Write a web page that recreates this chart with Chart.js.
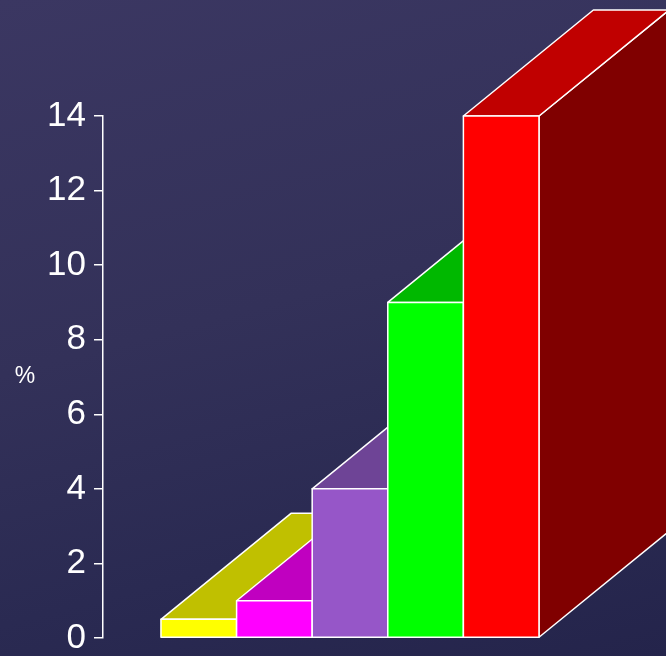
<!DOCTYPE html>
<html>
<head>
<meta charset="utf-8">
<script src="https://cdn.jsdelivr.net/npm/chart.js@4/dist/chart.umd.min.js"></script>
<style>
  html, body { margin: 0; padding: 0; }
  body {
    width: 666px; height: 656px; overflow: hidden;
    background: linear-gradient(165deg, #3b3762 0%, #333159 45%, #2a2a52 75%, #24244b 100%);
  }
  canvas { display: block; }
</style>
</head>
<body>
<canvas id="chart" width="666" height="656"></canvas>
<script>
// bar values, left to right
const categories = ['1', '2', '3', '4', '5'];
const values = [0.5, 1, 4, 9, 14];
const yTicks = [0, 2, 4, 6, 8, 10, 12, 14];

// front / top / side shades for each bar
const frontColors = ['#ffff00', '#ff00ff', '#9656c8', '#00ff00', '#ff0000'];
const topColors = ['#c0c000', '#c000c0', '#6e4496', '#00b800', '#c00000'];
const sideColors = ['#808000', '#800080', '#4e3070', '#008000', '#800000'];

const DEPTH_X = 130;
const DEPTH_Y = -106;

function poly(ctx, pts, fill) {
  ctx.beginPath();
  ctx.moveTo(pts[0][0], pts[0][1]);
  for (let i = 1; i < pts.length; i++) ctx.lineTo(pts[i][0], pts[i][1]);
  ctx.closePath();
  ctx.fillStyle = fill;
  ctx.fill();
  ctx.stroke();
}

// draws each bar as a box, back to front, so later bars hide earlier tops
const boxes = {
  id: 'boxes',
  afterDatasetsDraw(chart) {
    const ctx = chart.ctx;
    const bars = chart.getDatasetMeta(0).data;
    ctx.save();
    ctx.strokeStyle = '#ffffff';
    ctx.lineWidth = 1.5;
    ctx.lineJoin = 'round';
    bars.forEach((bar, i) => {
      const p = bar.getProps(['x', 'y', 'base', 'width'], true);
      const l = p.x - p.width / 2, r = p.x + p.width / 2;
      const t = p.y, b = p.base;
      poly(ctx, [[r, t], [r + DEPTH_X, t + DEPTH_Y], [r + DEPTH_X, b + DEPTH_Y], [r, b]], sideColors[i]);
      poly(ctx, [[l, t], [l + DEPTH_X, t + DEPTH_Y], [r + DEPTH_X, t + DEPTH_Y], [r, t]], topColors[i]);
      poly(ctx, [[l, t], [r, t], [r, b], [l, b]], frontColors[i]);
    });
    // unit label beside the value axis
    const area = chart.chartArea;
    ctx.fillStyle = '#ffffff';
    ctx.font = '23px "Liberation Sans", Arial, sans-serif';
    ctx.textAlign = 'center';
    ctx.textBaseline = 'middle';
    ctx.fillText('%', 25, (area.top + area.bottom) / 2);
    ctx.restore();
  }
};

new Chart(document.getElementById('chart'), {
  type: 'bar',
  data: {
    datasets: [{
      data: values.map((v, i) => ({ x: i + 1, y: v })),
      backgroundColor: frontColors,
      borderWidth: 0,
      barPercentage: 1,
      categoryPercentage: 1
    }]
  },
  options: {
    responsive: false,
    animation: false,
    events: [],
    layout: { padding: { top: 116, bottom: 18, left: 0, right: 0 } },
    plugins: { legend: { display: false }, tooltip: { enabled: false } },
    scales: {
      x: {
        type: 'linear',
        display: false,
        offset: false,
        min: -0.267,
        max: 7.18
      },
      y: {
        min: 0,
        max: 14,
        afterFit: scale => { scale.width = 103; scale.paddingTop = 0; scale.paddingBottom = 0; },
        afterBuildTicks: scale => { scale.ticks = yTicks.map(v => ({ value: v })); },
        border: { display: true, color: '#ffffff', width: 1.5 },
        grid: { drawOnChartArea: false, color: '#ffffff', lineWidth: 1.5, tickLength: 9 },
        ticks: {
          color: '#ffffff',
          padding: 8,
          font: { family: '"Liberation Sans", Arial, sans-serif', size: 35 }
        }
      }
    }
  },
  plugins: [boxes]
});
</script>
</body>
</html>
